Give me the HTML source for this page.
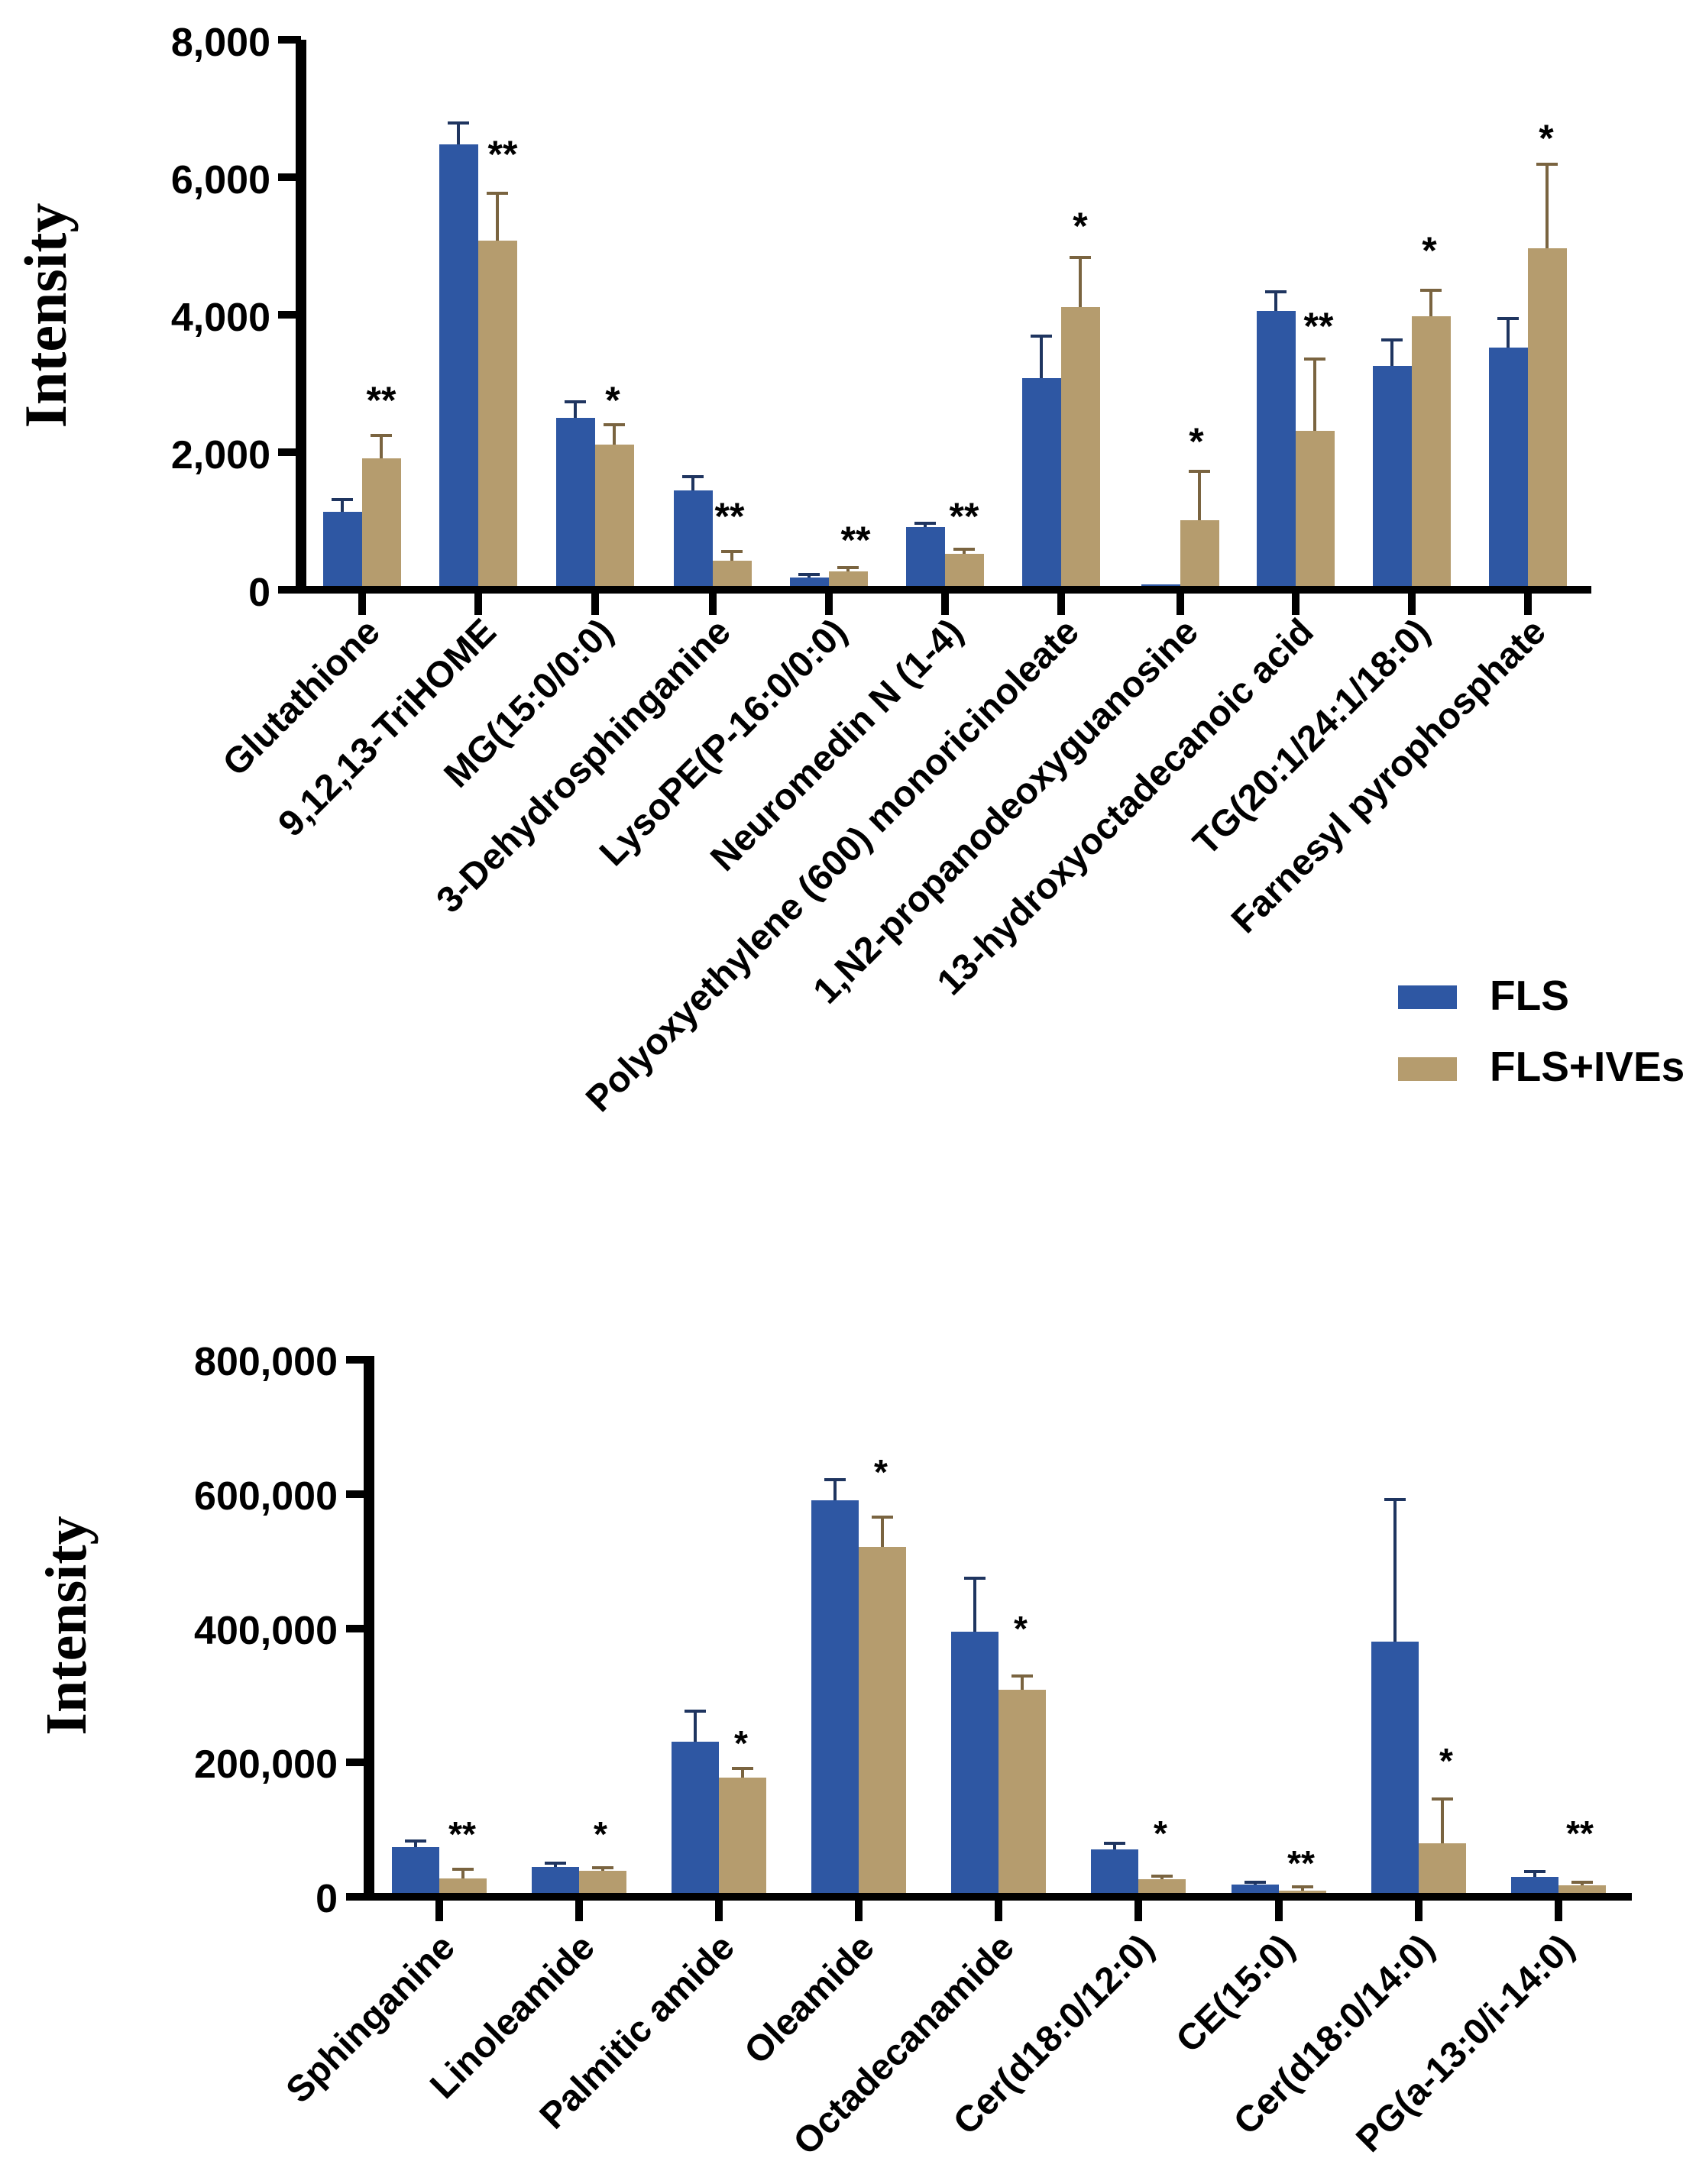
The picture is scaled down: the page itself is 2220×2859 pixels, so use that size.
<!DOCTYPE html>
<html><head><meta charset="utf-8"><style>html,body{margin:0;padding:0;background:#fff}svg{display:block}</style></head><body>
<svg width="2220" height="2859" viewBox="0 0 2220 2859" xmlns="http://www.w3.org/2000/svg">
<rect width="2220" height="2859" fill="#fff"/>
<g font-family="Liberation Sans, Arial, sans-serif" font-weight="bold">
<!-- ===== Chart 1 ===== -->
<g fill="#2e57a3">
<rect x="423" y="670" width="51" height="102"/>
<rect x="575" y="189" width="51" height="583"/>
<rect x="728" y="547" width="51" height="225"/>
<rect x="882" y="642" width="51" height="130"/>
<rect x="1034" y="756" width="51" height="16"/>
<rect x="1186" y="690" width="51" height="82"/>
<rect x="1338" y="495" width="51" height="277"/>
<rect x="1494" y="765" width="51" height="7"/>
<rect x="1645" y="407" width="51" height="365"/>
<rect x="1797" y="479" width="51" height="293"/>
<rect x="1949" y="455" width="51" height="317"/>
</g>
<g fill="#b59c6e">
<rect x="474" y="600" width="51" height="172"/>
<rect x="626" y="315" width="51" height="457"/>
<rect x="779" y="582" width="51" height="190"/>
<rect x="933" y="734" width="51" height="38"/>
<rect x="1085" y="748" width="51" height="24"/>
<rect x="1237" y="725" width="51" height="47"/>
<rect x="1389" y="402" width="51" height="370"/>
<rect x="1545" y="681" width="51" height="91"/>
<rect x="1696" y="564" width="51" height="208"/>
<rect x="1848" y="414" width="51" height="358"/>
<rect x="2000" y="325" width="51" height="447"/>
</g>
<g stroke="#1f3560" stroke-width="4" fill="none">
<path d="M448 670V654M434 654H462"/>
<path d="M600 189V161M586 161H614"/>
<path d="M753 547V526M739 526H767"/>
<path d="M907 642V624M893 624H921"/>
<path d="M1059 756V752M1045 752H1073"/>
<path d="M1211 690V685M1197 685H1225"/>
<path d="M1363 495V440M1349 440H1377"/>
<path d="M1670 407V382M1656 382H1684"/>
<path d="M1822 479V445M1808 445H1836"/>
<path d="M1974 455V417M1960 417H1988"/>
</g>
<g stroke="#7a6440" stroke-width="4" fill="none">
<path d="M499 600V570M485 570H513"/>
<path d="M651 315V253M637 253H665"/>
<path d="M804 582V556M790 556H818"/>
<path d="M958 734V722M944 722H972"/>
<path d="M1110 748V743M1096 743H1124"/>
<path d="M1262 725V719M1248 719H1276"/>
<path d="M1414 402V337M1400 337H1428"/>
<path d="M1570 681V617M1556 617H1584"/>
<path d="M1721 564V470M1707 470H1735"/>
<path d="M1873 414V380M1859 380H1887"/>
<path d="M2025 325V215M2011 215H2039"/>
</g>
<rect x="387" y="52" width="14" height="725" fill="#000"/>
<rect x="387" y="767" width="1696" height="10" fill="#000"/>
<g fill="#000">
<rect x="364" y="47" width="30" height="10"/><rect x="364" y="227" width="30" height="10"/><rect x="364" y="407" width="30" height="10"/><rect x="364" y="587" width="30" height="10"/><rect x="364" y="767" width="30" height="10"/>
<rect x="469" y="772" width="10" height="33"/><rect x="621" y="772" width="10" height="33"/><rect x="774" y="772" width="10" height="33"/><rect x="928" y="772" width="10" height="33"/><rect x="1080" y="772" width="10" height="33"/><rect x="1232" y="772" width="10" height="33"/><rect x="1384" y="772" width="10" height="33"/><rect x="1540" y="772" width="10" height="33"/><rect x="1691" y="772" width="10" height="33"/><rect x="1843" y="772" width="10" height="33"/><rect x="1995" y="772" width="10" height="33"/>
</g>
<g font-size="52" text-anchor="end">
<text x="354" y="73">8,000</text><text x="354" y="253">6,000</text><text x="354" y="433">4,000</text><text x="354" y="613">2,000</text><text x="354" y="793">0</text>
</g>
<text transform="translate(86,413) rotate(-90)" text-anchor="middle" font-family="Liberation Serif, serif" font-size="78">Intensity</text>
<g font-size="50" text-anchor="middle">
<text x="499" y="541">**</text><text x="658" y="219">**</text><text x="802" y="541">*</text><text x="955" y="693">**</text><text x="1120" y="724">**</text><text x="1262" y="693">**</text><text x="1414" y="313">*</text><text x="1566" y="595">*</text><text x="1726" y="444">**</text><text x="1871" y="345">*</text><text x="2024" y="198">*</text>
</g>
<g font-size="48" text-anchor="end">
<text transform="translate(500,830) rotate(-45)">Glutathione</text>
<text transform="translate(652,830) rotate(-45)">9,12,13-TriHOME</text>
<text transform="translate(805,830) rotate(-45)">MG(15:0/0:0)</text>
<text transform="translate(959,830) rotate(-45)">3-Dehydrosphinganine</text>
<text transform="translate(1111,830) rotate(-45)">LysoPE(P-16:0/0:0)</text>
<text transform="translate(1263,830) rotate(-45)">Neuromedin N (1-4)</text>
<text transform="translate(1415,830) rotate(-45)">Polyoxyethylene (600) monoricinoleate</text>
<text transform="translate(1571,830) rotate(-45)">1,N2-propanodeoxyguanosine</text>
<text transform="translate(1722,830) rotate(-45)">13-hydroxyoctadecanoic acid</text>
<text transform="translate(1874,830) rotate(-45)">TG(20:1/24:1/18:0)</text>
<text transform="translate(2026,830) rotate(-45)">Farnesyl pyrophosphate</text>
</g>
<rect x="1830" y="1290" width="77" height="31" fill="#2e57a3"/>
<rect x="1830" y="1384" width="77" height="31" fill="#b59c6e"/>
<text x="1950" y="1322" font-size="55">FLS</text>
<text x="1950" y="1415" font-size="55">FLS+IVEs</text>

<!-- ===== Chart 2 ===== -->
<g fill="#2e57a3">
<rect x="513" y="2418" width="62" height="65"/>
<rect x="696" y="2444" width="62" height="39"/>
<rect x="879" y="2280" width="62" height="203"/>
<rect x="1062" y="1964" width="62" height="519"/>
<rect x="1245" y="2136" width="62" height="347"/>
<rect x="1428" y="2421" width="62" height="62"/>
<rect x="1612" y="2467" width="62" height="16"/>
<rect x="1795" y="2149" width="62" height="334"/>
<rect x="1978" y="2457" width="62" height="26"/>
</g>
<g fill="#b59c6e">
<rect x="575" y="2459" width="62" height="24"/>
<rect x="758" y="2449" width="62" height="34"/>
<rect x="941" y="2327" width="62" height="156"/>
<rect x="1124" y="2025" width="62" height="458"/>
<rect x="1307" y="2212" width="62" height="271"/>
<rect x="1490" y="2460" width="62" height="23"/>
<rect x="1674" y="2475" width="62" height="8"/>
<rect x="1857" y="2413" width="62" height="70"/>
<rect x="2040" y="2468" width="62" height="15"/>
</g>
<g stroke="#1f3560" stroke-width="4" fill="none">
<path d="M544 2418V2410M530 2410H558"/>
<path d="M727 2444V2439M713 2439H741"/>
<path d="M910 2280V2240M896 2240H924"/>
<path d="M1093 1964V1937M1079 1937H1107"/>
<path d="M1276 2136V2066M1262 2066H1290"/>
<path d="M1459 2421V2413M1445 2413H1473"/>
<path d="M1643 2467V2464M1629 2464H1657"/>
<path d="M1826 2149V1963M1812 1963H1840"/>
<path d="M2009 2457V2450M1995 2450H2023"/>
</g>
<g stroke="#7a6440" stroke-width="4" fill="none">
<path d="M606 2459V2447M592 2447H620"/>
<path d="M789 2449V2445M775 2445H803"/>
<path d="M972 2327V2315M958 2315H986"/>
<path d="M1155 2025V1986M1141 1986H1169"/>
<path d="M1338 2212V2194M1324 2194H1352"/>
<path d="M1521 2460V2456M1507 2456H1535"/>
<path d="M1705 2475V2470M1691 2470H1719"/>
<path d="M1888 2413V2355M1874 2355H1902"/>
<path d="M2071 2468V2464M2057 2464H2085"/>
</g>
<rect x="476" y="1775" width="14" height="713" fill="#000"/>
<rect x="476" y="2478" width="1660" height="10" fill="#000"/>
<g fill="#000">
<rect x="453" y="1775" width="30" height="10"/><rect x="453" y="1951" width="30" height="10"/><rect x="453" y="2127" width="30" height="10"/><rect x="453" y="2302" width="30" height="10"/><rect x="453" y="2478" width="30" height="10"/>
<rect x="570" y="2483" width="10" height="32"/><rect x="753" y="2483" width="10" height="32"/><rect x="936" y="2483" width="10" height="32"/><rect x="1119" y="2483" width="10" height="32"/><rect x="1302" y="2483" width="10" height="32"/><rect x="1485" y="2483" width="10" height="32"/><rect x="1669" y="2483" width="10" height="32"/><rect x="1852" y="2483" width="10" height="32"/><rect x="2035" y="2483" width="10" height="32"/>
</g>
<g font-size="52" text-anchor="end">
<text x="442" y="1800">800,000</text><text x="442" y="1976">600,000</text><text x="442" y="2152">400,000</text><text x="442" y="2327">200,000</text><text x="442" y="2503">0</text>
</g>
<text transform="translate(112,2128) rotate(-90)" text-anchor="middle" font-family="Liberation Serif, serif" font-size="76">Intensity</text>
<g font-size="46" text-anchor="middle">
<text x="605" y="2417">**</text><text x="786" y="2417">*</text><text x="970" y="2298">*</text><text x="1153" y="1943">*</text><text x="1336" y="2148">*</text><text x="1519" y="2416">*</text><text x="1703" y="2455">**</text><text x="1893" y="2321">*</text><text x="2068" y="2416">**</text>
</g>
<g font-size="48" text-anchor="end">
<text transform="translate(598,2552) rotate(-45)">Sphinganine</text>
<text transform="translate(781,2552) rotate(-45)">Linoleamide</text>
<text transform="translate(964,2552) rotate(-45)">Palmitic amide</text>
<text transform="translate(1147,2552) rotate(-45)">Oleamide</text>
<text transform="translate(1330,2552) rotate(-45)">Octadecanamide</text>
<text transform="translate(1513,2552) rotate(-45)">Cer(d18:0/12:0)</text>
<text transform="translate(1697,2552) rotate(-45)">CE(15:0)</text>
<text transform="translate(1880,2552) rotate(-45)">Cer(d18:0/14:0)</text>
<text transform="translate(2063,2552) rotate(-45)">PG(a-13:0/i-14:0)</text>
</g>
</g>
</svg>
</body></html>
